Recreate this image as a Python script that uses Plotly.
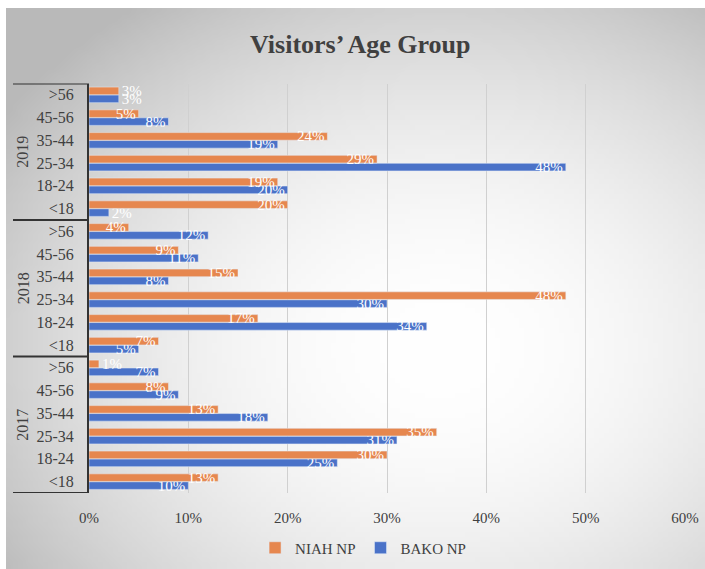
import base64, struct, zlib
import plotly.graph_objects as go

# ---------------- data ----------------
years = ["2017", "2018", "2019"]
age_groups = ["<18", "18-24", "25-34", "35-44", "45-56", ">56"]   # bottom -> top within each year
niah_2017 = [13, 30, 35, 13, 8, 1]
bako_2017 = [10, 25, 31, 18, 9, 7]
niah_2018 = [7, 17, 48, 15, 9, 4]
bako_2018 = [5, 34, 30, 8, 11, 12]
niah_2019 = [20, 19, 29, 24, 5, 3]
bako_2019 = [2, 20, 48, 19, 8, 3]
x_ticks = [0, 10, 20, 30, 40, 50, 60]

niah = niah_2017 + niah_2018 + niah_2019
bako = bako_2017 + bako_2018 + bako_2019
cats = [f"{y}|{a}" for y in years for a in age_groups]
cat_labels = [a for y in years for a in age_groups]

W, H = 705, 569
FONT = "Liberation Serif"
ORANGE = "#E6874F"
BLUE = "#4A72C8"

# ---------------- background radial gradient (style only) ----------------
def make_png(w, h, rows):
    raw = b"".join(b"\x00" + bytes(r) for r in rows)
    def chunk(t, d):
        c = struct.pack(">I", len(d)) + t + d
        return c + struct.pack(">I", zlib.crc32(t + d) & 0xffffffff)
    return (b"\x89PNG\r\n\x1a\n" + chunk(b"IHDR", struct.pack(">IIBBBBB", w, h, 8, 0, 0, 0, 0))
            + chunk(b"IDAT", zlib.compress(raw, 9)) + chunk(b"IEND", b""))

gw, gh = 141, 113
x0, y0 = 6, 8
rows = []
for j in range(gh):
    Y = y0 + j * (H - y0) / (gh - 1)
    row = []
    for i in range(gw):
        X = x0 + i * (W - x0) / (gw - 1)
        r2 = ((X - 440) / 450) ** 2 + ((Y - 350) / 360) ** 2
        v = 255 - 50 * r2
        row.append(int(max(185, min(255, v))))
    rows.append(row)
bg_src = "data:image/png;base64," + base64.b64encode(make_png(gw, gh, rows)).decode()

def positions(vals):
    return ["outside" if v <= 3 else "inside" for v in vals]

# ---------------- figure ----------------
fig = go.Figure()
fig.add_trace(go.Bar(
    y=cats, x=[v / 100 for v in bako], orientation="h", name="BAKO NP",
    marker_color=BLUE, text=[f"{v}%" for v in bako], textposition=positions(bako),
    insidetextanchor="end", constraintext="none", textangle=0,
    textfont=dict(family=FONT, size=15, color="white"), legendrank=2,
    cliponaxis=False,
))
fig.add_trace(go.Bar(
    y=cats, x=[v / 100 for v in niah], orientation="h", name="NIAH NP",
    marker_color=ORANGE, text=[f"{v}%" for v in niah], textposition=positions(niah),
    insidetextanchor="end", constraintext="none", textangle=0,
    textfont=dict(family=FONT, size=15, color="white"), legendrank=1,
    cliponaxis=False,
))

px0, px1 = 89, 685
py_top, py_bot = 83.5, 493
fig.update_layout(
    width=W, height=H,
    margin=dict(l=0, r=0, t=0, b=0),
    paper_bgcolor="white", plot_bgcolor="rgba(0,0,0,0)",
    barmode="group", bargap=0.3, bargroupgap=0.05,
    font=dict(family=FONT, size=15, color="#404040"),
    xaxis=dict(domain=[px0 / W, px1 / W], range=[0, 0.6], tickvals=[t / 100 for t in x_ticks],
               ticktext=[f"{t}%" for t in x_ticks], showgrid=True, gridcolor="#d0d0d0",
               gridwidth=1, zeroline=False, showline=False, ticks="outside", ticklen=11,
               tickcolor="rgba(0,0,0,0)", automargin=False,
               tickfont=dict(family=FONT, size=15, color="#404040")),
    yaxis=dict(domain=[1 - py_bot / H, 1 - py_top / H], type="category",
               categoryorder="array", categoryarray=cats,
               tickvals=cats, ticktext=cat_labels, showline=True, linecolor="#333333",
               linewidth=2, showgrid=False, ticks="outside", ticklen=10,
               tickcolor="rgba(0,0,0,0)", automargin=False, range=[-0.5, 17.5],
               tickfont=dict(family=FONT, size=16, color="#404040")),
    legend=dict(orientation="h", x=0.515, xanchor="center", y=1 - 548 / H, yanchor="middle",
                font=dict(family=FONT, size=15, color="#404040"), bgcolor="rgba(0,0,0,0)",
                itemwidth=30),
    showlegend=True,
    images=[dict(source=bg_src, xref="paper", yref="paper", x=x0 / W, y=1 - y0 / H,
                 sizex=(W - x0) / W, sizey=(H - y0) / H, xanchor="left", yanchor="top",
                 sizing="stretch", layer="below")],
)

fig.add_annotation(text="<b>Visitors’ Age Group</b>", xref="paper", yref="paper",
                   x=360 / W, y=1 - 45 / H, xanchor="center", yanchor="middle", showarrow=False,
                   font=dict(family=FONT, size=26, color="#404040"))

# year group labels and dividers
n = len(age_groups)
for k, yr in enumerate(years):
    fig.add_annotation(text=yr, xref="paper", yref="y", x=23 / W, y=k * n + (n - 1) / 2,
                       xanchor="center", yanchor="middle",
                       textangle=-90, showarrow=False,
                       font=dict(family=FONT, size=16, color="#404040"))
for k in range(len(years) + 1):
    yy = k * n - 0.5
    fig.add_shape(type="line", xref="paper", yref="y", x0=13 / W, x1=px0 / W, y0=yy, y1=yy,
                  line=dict(color="#333333", width=2))

fig.write_html("out.html", config={"displayModeBar": False},
               post_script="document.body.style.margin='0';document.body.style.overflow='hidden';")
